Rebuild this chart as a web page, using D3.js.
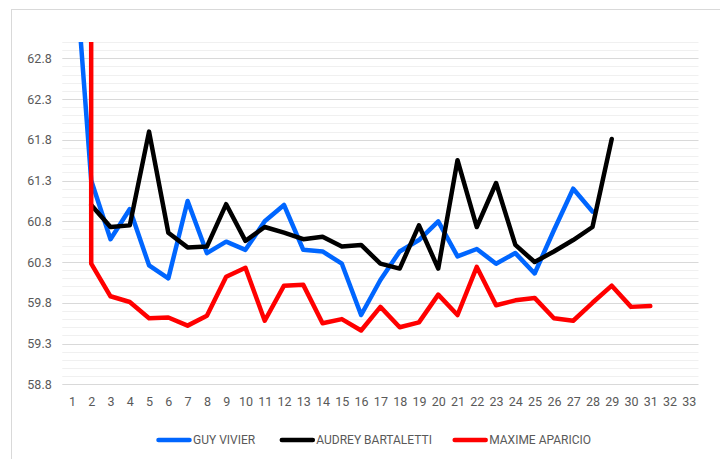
<!DOCTYPE html>
<html>
<head>
<meta charset="utf-8">
<script src="https://cdn.jsdelivr.net/npm/d3@7"></script>
<style>
  body { margin: 0; background: #fff; }
  svg { display: block; font-family: Roboto, "Noto Sans", sans-serif; }
</style>
</head>
<body>
<svg width="720" height="459"></svg>
<script>
// categories on the x axis
var categories = ["1","2","3","4","5","6","7","8","9","10","11","12","13","14","15","16","17",
  "18","19","20","21","22","23","24","25","26","27","28","29","30","31","32","33"];

// y tick labels
var yTicks = [58.8, 59.3, 59.8, 60.3, 60.8, 61.3, 61.8, 62.3, 62.8];

// series values (first value of each list is category 1)
var guyVivier = [64.47, 61.3, 60.58, 60.95, 60.26, 60.10, 61.05, 60.41, 60.55, 60.45, 60.80, 61.0,
  60.45, 60.43, 60.28, 59.65, 60.08, 60.43, 60.57, 60.80, 60.37, 60.46, 60.28, 60.41, 60.16, 60.69,
  61.20, 60.92];
var audreyBartaletti = [null, 61.0, 60.73, 60.75, 61.90, 60.66, 60.48, 60.49, 61.01, 60.56, 60.73,
  60.66, 60.58, 60.61, 60.49, 60.51, 60.28, 60.22, 60.75, 60.22, 61.55, 60.73, 61.27, 60.51, 60.30,
  60.43, 60.57, 60.73, 61.81];
var maximeAparicio = [1500, 60.28, 59.88, 59.81, 59.61, 59.62, 59.52, 59.64, 60.12, 60.23, 59.58,
  60.01, 60.02, 59.55, 59.60, 59.46, 59.75, 59.50, 59.56, 59.90, 59.65, 60.24, 59.77, 59.83, 59.86,
  59.61, 59.58, 59.80, 60.01, 59.75, 59.76];

var seriesNames = ["GUY VIVIER", "AUDREY BARTALETTI", "MAXIME APARICIO"];
var seriesColors = ["#0066ff", "#000000", "#ff0000"];
var seriesValues = [guyVivier, audreyBartaletti, maximeAparicio];

var svg = d3.select("svg");

var plotLeft = 62.3, plotRight = 698.5, plotTop = 42, plotBottom = 384.3;

// outer chart border
svg.append("rect")
  .attr("x", 11.5).attr("y", 9.5)
  .attr("width", 760).attr("height", 480)
  .attr("fill", "none")
  .attr("stroke", "#d9d9d9");

var x = d3.scalePoint()
  .domain(categories)
  .range([plotLeft, plotRight])
  .padding(0.5);

var y = d3.scaleLinear()
  .domain([58.8, 63.0])
  .range([plotBottom, plotTop]);

// minor gridlines every 0.1
var minor = d3.range(0, 43).map(function(i){ return +(58.8 + i * 0.1).toFixed(1) });
svg.append("g")
  .selectAll("line")
  .data(minor.filter(function(v){ return yTicks.indexOf(v) < 0 }))
  .enter()
  .append("line")
    .attr("x1", plotLeft).attr("x2", plotRight)
    .attr("y1", function(d){ return Math.round(y(d)) + 0.5 })
    .attr("y2", function(d){ return Math.round(y(d)) + 0.5 })
    .attr("stroke", "#f0f0f0");

// major gridlines
svg.append("g")
  .selectAll("line")
  .data(yTicks)
  .enter()
  .append("line")
    .attr("x1", plotLeft).attr("x2", plotRight)
    .attr("y1", function(d){ return Math.round(y(d)) + 0.5 })
    .attr("y2", function(d){ return Math.round(y(d)) + 0.5 })
    .attr("stroke", "#d9d9d9");

// y axis labels
var yAxis = svg.append("g")
  .attr("transform", "translate(" + plotLeft + ",0)")
  .call(d3.axisLeft(y).tickValues(yTicks).tickFormat(d3.format(".1f")).tickSize(0).tickPadding(10.6));
yAxis.select(".domain").remove();

// x axis labels
var xAxis = svg.append("g")
  .attr("transform", "translate(0," + plotBottom + ")")
  .call(d3.axisBottom(x).tickSize(0).tickPadding(12.8));
xAxis.select(".domain").remove();

svg.selectAll(".tick text")
  .attr("fill", "#595959")
  .style("font-size", "12.5px")
  .style("font-family", "Roboto, sans-serif");

// clip lines to plot area
svg.append("clipPath").attr("id", "plot")
  .append("rect")
    .attr("x", plotLeft).attr("y", plotTop)
    .attr("width", plotRight - plotLeft).attr("height", plotBottom - plotTop);

var line = d3.line()
  .defined(function(d){ return d != null })
  .x(function(d, i){ return x(categories[i]) })
  .y(function(d){ return y(d) });

svg.append("g")
  .attr("clip-path", "url(#plot)")
  .selectAll("path")
  .data(seriesValues)
  .enter()
  .append("path")
    .attr("d", line)
    .attr("fill", "none")
    .attr("stroke", function(d, i){ return seriesColors[i] })
    .attr("stroke-width", 4.5)
    .attr("stroke-linejoin", "round")
    .attr("stroke-linecap", "round");

// legend
var legendX = [158.5, 281.8, 454.7];
var legend = svg.append("g")
  .selectAll("g")
  .data(seriesNames)
  .enter()
  .append("g")
    .attr("transform", function(d, i){ return "translate(" + legendX[i] + ",440)" });

legend.append("line")
  .attr("x1", 0).attr("x2", 31)
  .attr("stroke", function(d, i){ return seriesColors[i] })
  .attr("stroke-width", 4.5)
  .attr("stroke-linecap", "round");

legend.append("text")
  .attr("x", 34.5)
  .attr("y", 4.3)
  .attr("fill", "#595959")
  .style("font-size", "12px")
  .text(function(d){ return d });
</script>
</body>
</html>
